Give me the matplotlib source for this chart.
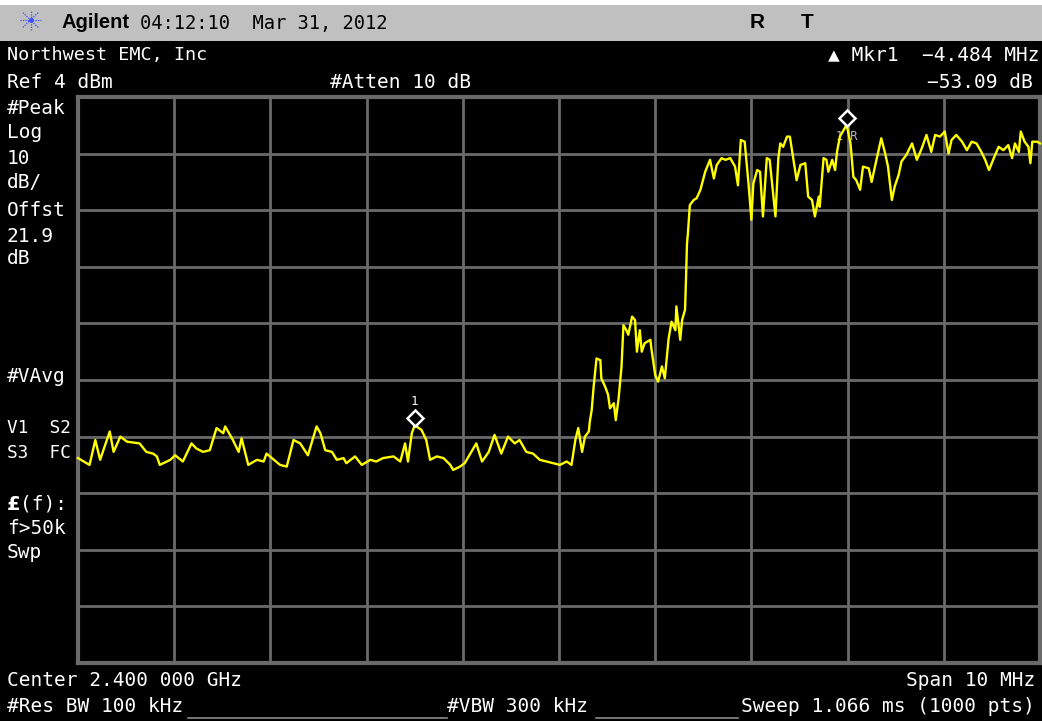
import matplotlib
matplotlib.use("Agg")
import matplotlib.pyplot as plt
import numpy as np
from matplotlib.transforms import offset_copy

# ---- analyzer settings ----
center_ghz = 2.4
span_mhz = 10.0
ref_level_dbm = 4.0
db_per_div = 10.0

# ---- trace: frequency offset from center (MHz) and level (dBm) ----
floor_freq = [-5.00, -4.94, -4.88, -4.82, -4.77, -4.67, -4.63, -4.56, -4.49, -4.36,
              -4.29, -4.22, -4.18, -4.15, -4.04, -3.99, -3.91, -3.82, -3.77, -3.70,
              -3.63, -3.56, -3.49, -3.47, -3.39, -3.33, -3.30, -3.23, -3.14, -3.07,
              -3.04, -2.90, -2.83, -2.76, -2.69, -2.61, -2.52, -2.48, -2.43, -2.36,
              -2.31, -2.24, -2.21, -2.12, -2.05, -1.96, -1.90, -1.83, -1.72, -1.65,
              -1.60, -1.57, -1.53, -1.50, -1.43, -1.38, -1.34, -1.27, -1.20, -1.13,
              -1.10, -1.03, -0.98, -0.86, -0.80, -0.73, -0.67, -0.60, -0.53, -0.46,
              -0.41, -0.34, -0.27, -0.20, -0.13, -0.06, 0.01, 0.08, 0.13, 0.17, 0.20]
floor_level = [-59.8, -60.4, -61.0, -56.6, -60.1, -55.1, -58.7, -56.0, -56.9, -57.2,
               -58.7, -59.0, -59.5, -61.0, -60.1, -59.3, -60.4, -57.2, -58.1, -58.7,
               -58.4, -54.5, -55.4, -54.2, -56.6, -58.7, -56.3, -61.0, -60.1, -60.4,
               -59.0, -61.0, -61.3, -56.6, -57.2, -59.3, -54.2, -55.4, -58.4, -58.7,
               -60.1, -59.8, -60.7, -59.5, -61.0, -60.1, -60.4, -59.8, -59.5, -60.4,
               -57.2, -60.4, -55.4, -54.0, -54.8, -56.6, -60.1, -59.5, -59.8, -61.0,
               -61.9, -61.3, -60.7, -57.2, -60.4, -58.7, -55.7, -59.0, -56.0, -57.2,
               -56.6, -58.7, -59.0, -60.1, -60.4, -60.7, -61.0, -60.4, -61.0, -56.6, -54.5]

edge_freq = [0.24, 0.27, 0.31, 0.32, 0.34, 0.36, 0.39, 0.43, 0.44, 0.48,
             0.51, 0.53, 0.57, 0.59, 0.62, 0.65, 0.67, 0.70, 0.72, 0.76,
             0.79, 0.81, 0.84, 0.86, 0.89, 0.95, 0.96, 1.00, 1.03, 1.07,
             1.10, 1.14, 1.17, 1.21, 1.22, 1.26, 1.28, 1.31, 1.32, 1.33, 1.34]
edge_level = [-58.7, -56.0, -55.1, -53.4, -51.3, -47.2, -42.2, -42.5, -45.7, -47.2,
              -48.6, -51.0, -50.1, -53.1, -49.2, -43.6, -36.3, -37.2, -38.0, -34.8,
              -35.4, -41.0, -37.2, -41.0, -39.5, -38.9, -40.4, -45.1, -46.3, -43.6,
              -45.7, -38.6, -35.7, -37.2, -33.0, -38.9, -35.4, -33.6, -28.3, -22.0, -20.1]

band_freq = [1.36, 1.40, 1.43, 1.47, 1.52, 1.57, 1.61, 1.64, 1.69, 1.73,
             1.78, 1.83, 1.86, 1.89, 1.93, 1.97, 2.00, 2.02, 2.06, 2.09,
             2.12, 2.16, 2.19, 2.25, 2.28, 2.30, 2.33, 2.37, 2.40, 2.44,
             2.47, 2.51, 2.56, 2.59, 2.63, 2.66, 2.70, 2.71, 2.75, 2.78,
             2.80, 2.84, 2.87, 2.89, 2.92, 2.99, 3.03, 3.06, 3.09, 3.13,
             3.16, 3.22, 3.25, 3.30, 3.35, 3.39, 3.42, 3.46, 3.49, 3.53,
             3.56, 3.61, 3.67, 3.72, 3.77, 3.82, 3.87, 3.91, 3.96, 4.01,
             4.05, 4.08, 4.13, 4.19, 4.24, 4.29, 4.34, 4.39, 4.43, 4.47,
             4.52, 4.57, 4.62, 4.67, 4.71, 4.74, 4.78, 4.80, 4.84, 4.88,
             4.90, 4.92, 4.97, 5.00]
band_level = [-15.1, -14.2, -13.9, -12.4, -9.2, -7.1, -10.4, -8.0, -6.8, -7.1,
              -6.8, -8.3, -11.6, -3.6, -3.9, -11.3, -17.7, -11.3, -8.9, -9.2,
              -17.1, -6.8, -7.1, -17.1, -6.8, -4.2, -4.8, -3.0, -3.0, -7.4,
              -10.7, -8.0, -7.7, -13.6, -14.2, -17.1, -13.6, -15.4, -6.8, -7.1,
              -9.2, -7.1, -8.9, -5.7, -3.0, -0.9, -4.2, -10.1, -10.7, -12.4,
              -8.3, -8.6, -11.0, -7.1, -3.3, -5.95, -8.3, -14.2, -11.8, -9.8,
              -7.4, -6.25, -4.2, -7.1, -5.1, -2.7, -5.7, -2.7, -3.0, -2.1,
              -6.0, -3.6, -2.7, -3.9, -5.4, -3.9, -4.2, -5.7, -7.1, -8.9,
              -6.8, -4.8, -5.4, -4.5, -6.8, -4.2, -5.7, -2.1, -3.9, -4.8,
              -7.7, -3.9, -3.9, -4.2]

# ---- markers: (frequency offset MHz, level dBm) ----
marker1 = (-1.50, -54.0)
marker1_ref = (2.99, -0.9)

freq = np.array(floor_freq + edge_freq + band_freq)
level = np.array(floor_level + edge_level + band_level)

W, H = 1042, 721
fig = plt.figure(figsize=(W / 100, H / 100), dpi=100, facecolor="black")


def fx(x):
    return x / W


def fy(y):
    return 1 - y / H


# title bar
fig.patches.append(plt.Rectangle((0, fy(41)), 1, fy(5) - fy(41), transform=fig.transFigure,
                                  facecolor="#c0c0c0", edgecolor="none", zorder=-2))
fig.patches.append(plt.Rectangle((0, fy(5)), 1, 1 - fy(5), transform=fig.transFigure,
                                  facecolor="white", edgecolor="none", zorder=-2))

# graticule
ax = fig.add_axes([fx(78), fy(663), fx(1040) - fx(78), fy(97) - fy(663)])
ax.set_facecolor("black")
half = span_mhz / 2
ax.set_xlim(-half, half)
ax.set_ylim(ref_level_dbm - 10 * db_per_div, ref_level_dbm)
ax.set_xticks(np.linspace(-half, half, 11))
ax.set_yticks(np.linspace(ref_level_dbm - 10 * db_per_div, ref_level_dbm, 11))
ax.tick_params(length=0, labelbottom=False, labelleft=False)
ax.grid(True, color="#6a6a6a", linewidth=2)
for sp in ax.spines.values():
    sp.set_color("#6a6a6a")
    sp.set_linewidth(3)

ax.plot(freq, level, color="#ffff00", linewidth=1.7, zorder=3, clip_on=False)

# marker diamonds, drawn just above the trace point
lift = offset_copy(ax.transData, fig=fig, x=0, y=7, units="dots")
for (mf, ml) in (marker1, marker1_ref):
    ax.plot(mf, ml, marker="D", markersize=8, markerfacecolor="black",
            markeredgecolor="white", markeredgewidth=1.8, transform=lift, zorder=5)
lab1 = offset_copy(ax.transData, fig=fig, x=0, y=24, units="dots")
ax.text(marker1[0], marker1[1], "1", transform=lab1, color="white", fontsize=9,
        family="DejaVu Sans Mono", ha="center", va="center", zorder=5)
labr = offset_copy(ax.transData, fig=fig, x=0, y=-12, units="dots")
ax.text(marker1_ref[0], marker1_ref[1], "1 R", transform=labr, color="#bbbbbb", fontsize=8.5,
        family="DejaVu Sans Mono", ha="center", va="center", zorder=2)

# logo: fine dotted eight-arm star
lg = fig.add_axes([fx(18), fy(32), fx(25), fy(8) - fy(32)])
lg.set_axis_off()
lg.set_zorder(5)
lg.set_xlim(-1.15, 1.15)
lg.set_ylim(-1.15, 1.15)
for ang in (0, 45, 90, 135):
    r = np.deg2rad(ang)
    t = np.array([-1.0, 1.0])
    lg.plot(t * np.cos(r), t * np.sin(r), color="#3a50ff", linewidth=0.9,
            linestyle=(0, (1.0, 1.0)))
lg.plot(0, 0, "o", color="#3a50ff", markersize=2.5)

mono = "DejaVu Sans Mono"
fs = 14
tc = "white"

fig.text(fx(62), fy(23), "Agilent", family="Liberation Sans", weight="bold", fontsize=14.5,
         color="black", va="center", ha="left")
fig.text(fx(140), fy(23), "04:12:10  Mar 31, 2012", family=mono, fontsize=13.5,
         color="black", va="center", ha="left")
fig.text(fx(757), fy(23), "R", family="Liberation Sans", weight="bold", fontsize=15,
         color="black", va="center", ha="center")
fig.text(fx(807), fy(23), "T", family="Liberation Sans", weight="bold", fontsize=15,
         color="black", va="center", ha="center")

fig.text(fx(7), fy(55), "Northwest EMC, Inc", family=mono, fontsize=13.3, color=tc, va="center")
fig.text(fx(7), fy(82), f"Ref {ref_level_dbm:g} dBm", family=mono, fontsize=fs, color=tc, va="center")
fig.text(fx(330), fy(82), "#Atten 10 dB", family=mono, fontsize=fs, color=tc, va="center")
fig.text(fx(1039), fy(55), "\u25b2 Mkr1  \u22124.484 MHz", family=mono, fontsize=fs, color=tc,
         va="center", ha="right")
fig.text(fx(1033), fy(82), "\u221253.09 dB", family=mono, fontsize=fs, color=tc, va="center", ha="right")

side = [("#Peak", 108, 14), ("Log", 132, 14), ("10", 158, 14), ("dB/", 183, 14),
        ("Offst", 211, 14), ("21.9", 236, 14), ("dB", 258, 14), ("#VAvg", 376, 14),
        ("V1  S2", 428, 12.8), ("S3  FC", 453, 12.8),
        ("(f):", 504, 14), ("f>50k", 529, 14), ("Swp", 553, 14)]
for s, y, size in side:
    x = 7 if s != "(f):" else 20
    fig.text(fx(x), fy(y), s, family=mono, fontsize=size, color=tc, va="center")
fig.text(fx(7), fy(504), "\u00a3", family="DejaVu Sans", weight="bold", fontsize=fs,
         color=tc, va="center")

fig.text(fx(7), fy(680), f"Center {center_ghz:.3f} 000 GHz", family=mono, fontsize=fs, color=tc, va="center")
fig.text(fx(1035), fy(680), f"Span {span_mhz:g} MHz", family=mono, fontsize=fs, color=tc,
         va="center", ha="right")
fig.text(fx(7), fy(707), "#Res BW 100 kHz", family=mono, fontsize=fs, color=tc, va="center")
fig.text(fx(447), fy(707), "#VBW 300 kHz", family=mono, fontsize=fs, color=tc, va="center")
fig.text(fx(1035), fy(707), "Sweep 1.066 ms (1000 pts)", family=mono, fontsize=fs, color=tc,
         va="center", ha="right")

# status underlines
for x0, x1 in ((188, 447), (596, 738)):
    fig.add_artist(plt.Line2D([fx(x0), fx(x1)], [fy(718), fy(718)], transform=fig.transFigure,
                              color="#8a8a8a", linewidth=1.2))

fig.savefig("out.png", dpi=100, facecolor="black")
